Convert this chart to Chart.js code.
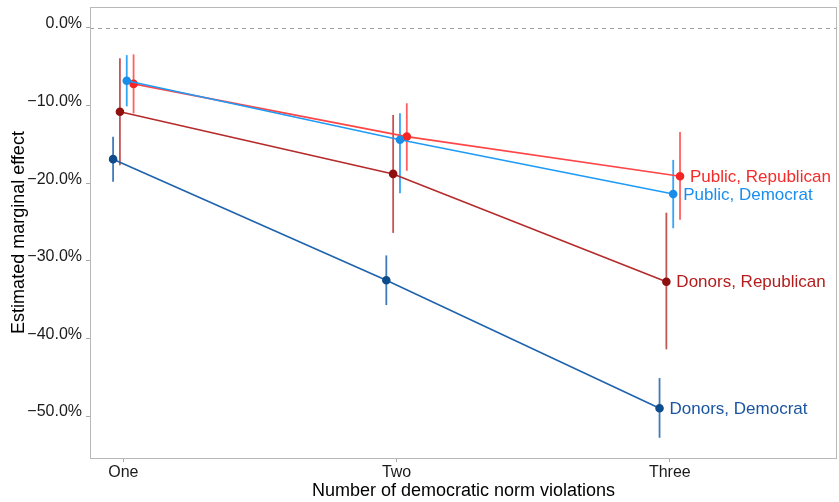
<!DOCTYPE html>
<html>
<head>
<meta charset="utf-8">
<script src="https://cdn.jsdelivr.net/npm/chart.js@4.4.1/dist/chart.umd.min.js"></script>
<style>
  html, body { margin: 0; padding: 0; background: #fff; }
  #wrap { width: 839px; height: 502px; }
</style>
</head>
<body>
<div id="wrap"><canvas id="myChart"></canvas></div>
<script>
var categories = ['One', 'Two', 'Three'];
var seriesNames = ['Donors, Democrat', 'Donors, Republican', 'Public, Democrat', 'Public, Republican'];

var donorsDemEst = [-16.9, -32.5, -49.0];
var donorsDemLo = [-19.8, -35.7, -52.8];
var donorsDemHi = [-14.0, -29.3, -45.1];

var donorsRepEst = [-10.8, -18.8, -32.7];
var donorsRepLo = [-17.7, -26.4, -41.4];
var donorsRepHi = [-3.9, -11.2, -23.8];

var publicDemEst = [-6.8, -14.4, -21.4];
var publicDemLo = [-10.1, -21.3, -25.8];
var publicDemHi = [-3.5, -11.0, -17.0];

var publicRepEst = [-7.2, -14.0, -19.1];
var publicRepLo = [-11.0, -18.4, -24.7];
var publicRepHi = [-3.4, -9.7, -13.4];

var yTicks = [0, -10, -20, -30, -40, -50];

var FONT = "'Liberation Sans', Arial, Helvetica, sans-serif";

// dodge like ggplot position_dodge(width = 0.1)
var dodge = [-0.0375, -0.0125, 0.0125, 0.0375];
var lineColors = ['#1f63ad', '#b52a2a', '#1e9bf5', '#ff4545'];
var pointColors = ['#0f4c8c', '#8e1010', '#1a8de8', '#f52525'];
var barColors = ['rgba(31,99,173,0.85)', 'rgba(181,42,42,0.8)', 'rgba(30,155,245,0.9)', 'rgba(255,69,69,0.85)'];
var labelColors = ['#1b55a0', '#b31d1d', '#1a8eee', '#f52b2b'];

var estimates = [donorsDemEst, donorsRepEst, publicDemEst, publicRepEst];
var lows = [donorsDemLo, donorsRepLo, publicDemLo, publicRepLo];
var highs = [donorsDemHi, donorsRepHi, publicDemHi, publicRepHi];

var datasets = seriesNames.map(function (name, s) {
  return {
    label: name,
    data: categories.map(function (c, i) {
      return { x: i + 1 + dodge[s], y: estimates[s][i], lo: lows[s][i], hi: highs[s][i] };
    }),
    borderColor: lineColors[s],
    backgroundColor: pointColors[s],
    pointBackgroundColor: pointColors[s],
    pointBorderColor: pointColors[s],
    pointRadius: 3.5,
    borderWidth: 1.6,
    tension: 0
  };
});

var extras = {
  id: 'extras',
  beforeDatasetsDraw: function (chart) {
    var ctx = chart.ctx;
    var x = chart.scales.x, y = chart.scales.y;
    var area = chart.chartArea;
    // dashed zero line
    ctx.save();
    ctx.strokeStyle = '#a0a0a0';
    ctx.lineWidth = 1;
    ctx.setLineDash([4, 4]);
    var y0 = Math.round(y.getPixelForValue(0)) + 0.5;
    ctx.beginPath();
    ctx.moveTo(area.left, y0);
    ctx.lineTo(area.right, y0);
    ctx.stroke();
    ctx.setLineDash([]);
    // error bars
    chart.data.datasets.forEach(function (ds, s) {
      ctx.strokeStyle = barColors[s];
      ctx.lineWidth = 1.8;
      ds.data.forEach(function (p) {
        var px = x.getPixelForValue(p.x);
        ctx.beginPath();
        ctx.moveTo(px, y.getPixelForValue(p.lo));
        ctx.lineTo(px, y.getPixelForValue(p.hi));
        ctx.stroke();
      });
    });
    ctx.restore();
  },
  afterDatasetsDraw: function (chart) {
    var ctx = chart.ctx;
    var area = chart.chartArea;
    ctx.save();
    // panel border
    ctx.strokeStyle = '#b8b8b8';
    ctx.lineWidth = 1;
    ctx.strokeRect(Math.round(area.left) + 0.5, Math.round(area.top) + 0.5,
      Math.round(area.right - area.left) - 1, Math.round(area.bottom - area.top));
    // end labels
    ctx.font = '17px ' + FONT;
    ctx.textAlign = 'left';
    ctx.textBaseline = 'middle';
    chart.data.datasets.forEach(function (ds, s) {
      var meta = chart.getDatasetMeta(s);
      var last = meta.data[meta.data.length - 1];
      ctx.fillStyle = labelColors[s];
      ctx.fillText(ds.label, last.x + 10, last.y + 1);
    });
    ctx.restore();
  }
};

var ctx = document.getElementById('myChart').getContext('2d');

var chartData = {
  type: 'line',
  data: { datasets: datasets },
  options: {
    responsive: true,
    maintainAspectRatio: false,
    animation: false,
    layout: { autoPadding: false, padding: { top: 7, right: 2, left: 0, bottom: 0 } },
    plugins: { legend: { display: false }, tooltip: { enabled: false } },
    scales: {
      x: {
        type: 'linear',
        min: 0.878,
        max: 3.612,
        afterBuildTicks: function (axis) {
          axis.ticks = categories.map(function (c, i) { return { value: i + 1 }; });
        },
        afterFit: function (axis) {
          axis.height = 44;
          axis.paddingLeft = 0;
          axis.paddingRight = 0;
        },
        ticks: {
          autoSkip: false,
          maxRotation: 0,
          padding: 1,
          color: '#1a1a1a',
          font: { family: FONT, size: 16 },
          callback: function (v) { return categories[v - 1]; }
        },
        grid: { drawOnChartArea: false, tickLength: 4, color: '#a8a8a8' },
        border: { display: false },
        title: {
          display: true,
          text: 'Number of democratic norm violations',
          color: '#000',
          font: { family: FONT, size: 18 },
          padding: { top: 0, bottom: 0 }
        }
      },
      y: {
        type: 'linear',
        min: -55.4,
        max: 2.7,
        afterBuildTicks: function (axis) {
          axis.ticks = yTicks.map(function (v) { return { value: v }; });
        },
        afterFit: function (axis) {
          axis.width = 90;
          axis.paddingTop = 0;
          axis.paddingBottom = 0;
        },
        ticks: {
          padding: 4,
          labelOffset: -4,
          color: '#1a1a1a',
          font: { family: FONT, size: 16 },
          callback: function (v) {
            var s = Math.abs(v).toFixed(1) + '%';
            return v < 0 ? '\u2212' + s : s;
          }
        },
        grid: { drawOnChartArea: false, tickLength: 4, color: '#a8a8a8' },
        border: { display: false },
        title: {
          display: true,
          text: 'Estimated marginal effect',
          color: '#000',
          font: { family: FONT, size: 18 },
          padding: { top: 8, bottom: 0 }
        }
      }
    }
  },
  plugins: [extras]
};

var myChart = new Chart(ctx, chartData);
</script>
</body>
</html>
